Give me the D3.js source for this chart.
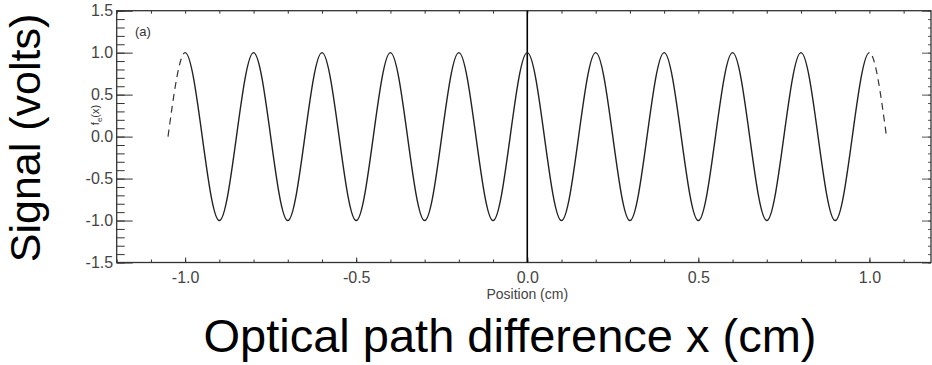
<!DOCTYPE html>
<html>
<head>
<meta charset="utf-8">
<script src="https://cdn.jsdelivr.net/npm/d3@7"></script>
<style>
  body { margin: 0; background: #fff; }
  svg { display: block; font-family: "Liberation Sans", Arial, sans-serif; }
  .tick text { fill: #444; }
  .domain { display: none; }
</style>
</head>
<body>
<div class="svg-container"></div>
<script>
const position = [-1.05, -1.0, -0.95, -0.9, -0.85, -0.8, -0.75, -0.7, -0.65, -0.6, -0.55,
  -0.5, -0.45, -0.4, -0.35, -0.3, -0.25, -0.2, -0.15, -0.1, -0.05, 0.0,
  0.05, 0.1, 0.15, 0.2, 0.25, 0.3, 0.35, 0.4, 0.45, 0.5,
  0.55, 0.6, 0.65, 0.7, 0.75, 0.8, 0.85, 0.9, 0.95, 1.0, 1.05];
const signal = [0, 1, 0, -1, 0, 1, 0, -1, 0, 1, 0,
  -1, 0, 1, 0, -1, 0, 1, 0, -1, 0, 1,
  0, -1, 0, 1, 0, -1, 0, 1, 0, -1,
  0, 1, 0, -1, 0, 1, 0, -1, 0, 1, 0];
// solid part of the trace, the rest is dashed
const solidRange = [-1.0, 1.0];

const xTicks = [-1.0, -0.5, 0.0, 0.5, 1.0];
const xMinorTicks = d3.range(-12, 12).map(d => d / 10);
const yTicks = [-1.5, -1.0, -0.5, 0.0, 0.5, 1.0, 1.5];
const yMinorTicks = d3.range(-15, 16).map(d => d / 10);

const w = 932;
const h = 365;
const plotLeft = 116.7, plotRight = 931, plotTop = 10.7, plotBottom = 262.5;

const svg = d3.select(".svg-container")
  .append("svg")
  .attr("width", w)
  .attr("height", h);

// SCALES
const xScale = d3.scaleLinear().domain([-1.2, 1.18]).range([plotLeft, plotRight]);
const yScale = d3.scaleLinear().domain([-1.5, 1.5]).range([plotBottom, plotTop]);

const fmt = d => d.toFixed(1);

// clip paths for the solid and dashed parts
const defs = svg.append("defs");
defs.append("clipPath").attr("id", "solid-clip")
  .append("rect")
  .attr("x", xScale(solidRange[0]))
  .attr("y", 0)
  .attr("width", xScale(solidRange[1]) - xScale(solidRange[0]))
  .attr("height", h);
const dashClip = defs.append("clipPath").attr("id", "dash-clip");
dashClip.append("rect")
  .attr("x", 0).attr("y", 0)
  .attr("width", xScale(solidRange[0])).attr("height", h);
dashClip.append("rect")
  .attr("x", xScale(solidRange[1])).attr("y", 0)
  .attr("width", w - xScale(solidRange[1])).attr("height", h);

// AXES
// left, major + minor, ticks pointing in
svg.append("g")
  .attr("transform", "translate(" + plotLeft + ",0)")
  .call(d3.axisLeft(yScale).tickValues(yTicks).tickSize(-16).tickPadding(3.5).tickFormat(fmt))
  .call(g => g.selectAll("text").style("font-size", "16px"))
  .call(g => g.selectAll("line").attr("stroke", "#333"));
svg.append("g")
  .attr("transform", "translate(" + plotLeft + ",0)")
  .call(d3.axisLeft(yScale).tickValues(yMinorTicks).tickSize(-8).tickFormat(""))
  .call(g => g.selectAll("line").attr("stroke", "#333"));

// right
svg.append("g")
  .attr("transform", "translate(" + plotRight + ",0)")
  .call(d3.axisRight(yScale).tickValues(yTicks).tickSize(-9).tickFormat(""))
  .call(g => g.selectAll("line").attr("stroke", "#555"));
svg.append("g")
  .attr("transform", "translate(" + plotRight + ",0)")
  .call(d3.axisRight(yScale).tickValues(yMinorTicks).tickSize(-3).tickFormat(""))
  .call(g => g.selectAll("line").attr("stroke", "#555"));

// bottom
svg.append("g")
  .attr("transform", "translate(0," + plotBottom + ")")
  .call(d3.axisBottom(xScale).tickValues(xTicks).tickSize(-5).tickPadding(9.5).tickFormat(fmt))
  .call(g => g.selectAll("text").style("font-size", "16px"))
  .call(g => g.selectAll("line").attr("stroke", "#333"));
svg.append("g")
  .attr("transform", "translate(0," + plotBottom + ")")
  .call(d3.axisBottom(xScale).tickValues(xMinorTicks).tickSize(-3).tickFormat(""))
  .call(g => g.selectAll("line").attr("stroke", "#333"));

// top
svg.append("g")
  .attr("transform", "translate(0," + plotTop + ")")
  .call(d3.axisTop(xScale).tickValues(xMinorTicks).tickSize(-3).tickFormat(""))
  .call(g => g.selectAll("line").attr("stroke", "#333"));

// frame
svg.append("rect")
  .attr("x", plotLeft)
  .attr("y", plotTop)
  .attr("width", plotRight - plotLeft)
  .attr("height", plotBottom - plotTop)
  .attr("fill", "none")
  .attr("stroke", "#333")
  .attr("stroke-width", 1.3);

// zero position line
svg.append("line")
  .attr("x1", xScale(0)).attr("x2", xScale(0))
  .attr("y1", plotTop).attr("y2", plotBottom)
  .attr("stroke", "#000")
  .attr("stroke-width", 1.6);

// TRACE
const pts = position.map((p, i) => [p, signal[i]]);
const line = d3.line()
  .x(d => xScale(d[0]))
  .y(d => yScale(d[1]))
  .curve(d3.curveNatural);

svg.append("path")
  .datum(pts)
  .attr("clip-path", "url(#solid-clip)")
  .attr("fill", "none")
  .attr("stroke", "#222")
  .attr("stroke-width", 1.4)
  .attr("d", line);

svg.append("path")
  .datum(pts)
  .attr("clip-path", "url(#dash-clip)")
  .attr("fill", "none")
  .attr("stroke", "#333")
  .attr("stroke-width", 1.2)
  .attr("stroke-dasharray", "7,5")
  .attr("d", line);

// LABELS
svg.append("text")
  .attr("x", 135)
  .attr("y", 36)
  .style("font-size", "13px")
  .attr("fill", "#333")
  .text("(a)");

const fe = svg.append("text")
  .attr("transform", "translate(99,115) rotate(-90)")
  .attr("text-anchor", "middle")
  .style("font-size", "11px")
  .attr("fill", "#333");
fe.append("tspan").text("f");
fe.append("tspan").attr("dy", 3).style("font-size", "8px").text("e");
fe.append("tspan").attr("dy", -3).text("(x)");

svg.append("text")
  .attr("x", xScale(0))
  .attr("y", 299)
  .attr("text-anchor", "middle")
  .style("font-size", "14px")
  .attr("fill", "#444")
  .text("Position (cm)");

svg.append("text")
  .attr("transform", "translate(40,138) rotate(-90)")
  .attr("text-anchor", "middle")
  .style("font-size", "43px")
  .attr("fill", "#000")
  .text("Signal (volts)");

svg.append("text")
  .attr("x", 510)
  .attr("y", 352)
  .attr("text-anchor", "middle")
  .style("font-size", "47px")
  .attr("fill", "#000")
  .text("Optical path difference x (cm)");
</script>
</body>
</html>
